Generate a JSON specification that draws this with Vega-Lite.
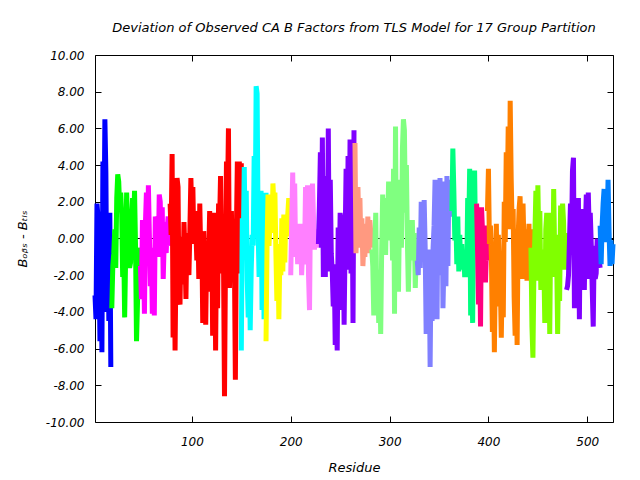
{
"$schema": "https://vega.github.io/schema/vega-lite/v6.json",
"width": 518, "height": 367,
"autosize": {"type": "none"},
"padding": {"left": 95, "top": 55, "right": 27, "bottom": 58},
"background": "white",
"title": {"text": "Deviation of Observed CA B Factors from TLS Model for 17 Group Partition", "font": "DejaVu Sans", "fontSize": 13, "fontStyle": "italic", "fontWeight": "normal", "color": "black", "anchor": "middle", "offset": 14},
"config": {
  "view": {"stroke": "black", "strokeWidth": 1},
  "axis": {"domain": false, "grid": false, "tickColor": "black", "labelColor": "black", "titleColor": "black", "labelFont": "DejaVu Sans", "titleFont": "DejaVu Sans", "labelFontSize": 12, "titleFontSize": 13, "labelFontStyle": "italic", "titleFontStyle": "italic", "titleFontWeight": "normal", "tickSize": -6, "tickWidth": 1}
},
"layer": [
  {"data": {"values": [{}]}, "mark": {"type": "rule", "color": "black", "strokeWidth": 1}, "encoding": {"y": {"datum": 0, "type": "quantitative", "scale": {"domain": [-10, 10], "nice": false}, "axis": null}}},
  {"data": {"values": [
{"g":1,"r":2,"v":-3.1},{"g":1,"r":3,"v":-4.4},{"g":1,"r":4,"v":1.9},{"g":1,"r":5,"v":1.2},{"g":1,"r":6,"v":-0.5},{"g":1,"r":7,"v":-5.6},{"g":1,"r":8,"v":0.2},{"g":1,"r":9,"v":-6.2},{"g":1,"r":10,"v":4.2},{"g":1,"r":11,"v":-0.3},{"g":1,"r":12,"v":6.5},{"g":1,"r":13,"v":3.6},{"g":1,"r":14,"v":-4.0},{"g":1,"r":15,"v":1.4},{"g":1,"r":16,"v":-4.5},{"g":1,"r":17,"v":1.4},{"g":1,"r":18,"v":-7.0},
{"g":2,"r":19,"v":-3.8},{"g":2,"r":20,"v":-1.5},{"g":2,"r":21,"v":-0.8},{"g":2,"r":22,"v":0.5},{"g":2,"r":23,"v":-1.6},{"g":2,"r":24,"v":2.2},{"g":2,"r":25,"v":3.5},{"g":2,"r":26,"v":3.1},{"g":2,"r":27,"v":1.6},{"g":2,"r":28,"v":2.5},{"g":2,"r":29,"v":1.3},{"g":2,"r":30,"v":-2.1},{"g":2,"r":31,"v":-0.3},{"g":2,"r":32,"v":-4.3},{"g":2,"r":33,"v":-1.0},{"g":2,"r":34,"v":2.5},{"g":2,"r":35,"v":0.5},{"g":2,"r":36,"v":1.6},{"g":2,"r":37,"v":-1.6},{"g":2,"r":38,"v":-1.3},{"g":2,"r":39,"v":0.9},{"g":2,"r":40,"v":2.2},{"g":2,"r":41,"v":0.5},{"g":2,"r":42,"v":2.6},{"g":2,"r":43,"v":-0.4},{"g":2,"r":44,"v":-5.6},{"g":2,"r":45,"v":-3.5},{"g":2,"r":46,"v":-0.5},{"g":2,"r":47,"v":-2.0},
{"g":3,"r":48,"v":-1.5},{"g":3,"r":49,"v":-3.3},{"g":3,"r":50,"v":1.0},{"g":3,"r":51,"v":-0.3},{"g":3,"r":52,"v":-4.1},{"g":3,"r":53,"v":0.8},{"g":3,"r":54,"v":2.5},{"g":3,"r":55,"v":-1.3},{"g":3,"r":56,"v":2.9},{"g":3,"r":57,"v":0.2},{"g":3,"r":58,"v":-2.6},{"g":3,"r":59,"v":-0.5},{"g":3,"r":60,"v":-4.1},{"g":3,"r":61,"v":-1.2},{"g":3,"r":62,"v":-4.2},{"g":3,"r":63,"v":1.2},{"g":3,"r":64,"v":0.3},{"g":3,"r":65,"v":1.2},{"g":3,"r":66,"v":-1.0},{"g":3,"r":67,"v":2.4},{"g":3,"r":68,"v":2.0},{"g":3,"r":69,"v":-0.9},{"g":3,"r":70,"v":1.7},{"g":3,"r":71,"v":-2.2},{"g":3,"r":72,"v":-0.2},{"g":3,"r":73,"v":0.9},{"g":3,"r":74,"v":-0.8},{"g":3,"r":75,"v":0.5},{"g":3,"r":76,"v":1.2},{"g":3,"r":77,"v":-0.4},
{"g":4,"r":78,"v":1.9},{"g":4,"r":79,"v":0.2},{"g":4,"r":80,"v":4.6},{"g":4,"r":81,"v":-5.4},{"g":4,"r":82,"v":0.5},{"g":4,"r":83,"v":-6.1},{"g":4,"r":84,"v":-1.0},{"g":4,"r":85,"v":3.3},{"g":4,"r":86,"v":2.8},{"g":4,"r":87,"v":-3.3},{"g":4,"r":88,"v":-3.6},{"g":4,"r":89,"v":0.1},{"g":4,"r":90,"v":-1.4},{"g":4,"r":91,"v":-2.5},{"g":4,"r":92,"v":0.9},{"g":4,"r":93,"v":-0.8},{"g":4,"r":94,"v":-3.3},{"g":4,"r":95,"v":0.3},{"g":4,"r":96,"v":-1.0},{"g":4,"r":97,"v":-2.0},{"g":4,"r":98,"v":0.5},{"g":4,"r":99,"v":3.3},{"g":4,"r":100,"v":1.1},{"g":4,"r":101,"v":2.8},{"g":4,"r":102,"v":-0.3},{"g":4,"r":103,"v":1.5},{"g":4,"r":104,"v":0.6},{"g":4,"r":105,"v":-1.2},{"g":4,"r":106,"v":1.2},{"g":4,"r":107,"v":-2.2},{"g":4,"r":108,"v":1.9},{"g":4,"r":109,"v":-1.0},{"g":4,"r":110,"v":0.2},{"g":4,"r":111,"v":-4.6},{"g":4,"r":112,"v":0.4},{"g":4,"r":113,"v":-1.8},{"g":4,"r":114,"v":-4.7},{"g":4,"r":115,"v":-0.6},{"g":4,"r":116,"v":-2.3},{"g":4,"r":117,"v":-1.0},{"g":4,"r":118,"v":1.5},{"g":4,"r":119,"v":-2.9},{"g":4,"r":120,"v":1.4},{"g":4,"r":121,"v":-5.3},{"g":4,"r":122,"v":-0.2},{"g":4,"r":123,"v":1.4},{"g":4,"r":124,"v":-6.1},{"g":4,"r":125,"v":0.1},{"g":4,"r":126,"v":-3.8},{"g":4,"r":127,"v":1.9},{"g":4,"r":128,"v":0.8},{"g":4,"r":129,"v":3.4},{"g":4,"r":130,"v":-1.9},{"g":4,"r":131,"v":0.3},{"g":4,"r":132,"v":-1.2},{"g":4,"r":133,"v":-8.6},{"g":4,"r":134,"v":-1.2},{"g":4,"r":135,"v":4.2},{"g":4,"r":136,"v":2.0},{"g":4,"r":137,"v":6.0},{"g":4,"r":138,"v":-2.7},{"g":4,"r":139,"v":-0.5},{"g":4,"r":140,"v":1.5},{"g":4,"r":141,"v":-2.0},{"g":4,"r":142,"v":0.8},{"g":4,"r":143,"v":-1.0},{"g":4,"r":144,"v":-7.7},{"g":4,"r":145,"v":0.2},{"g":4,"r":146,"v":4.2},{"g":4,"r":147,"v":-1.9},{"g":4,"r":148,"v":4.2},{"g":4,"r":149,"v":-1.9},{"g":4,"r":150,"v":4.1},
{"g":5,"r":150,"v":-6.1},{"g":5,"r":151,"v":1.1},{"g":5,"r":152,"v":-0.3},{"g":5,"r":153,"v":3.9},{"g":5,"r":154,"v":-0.6},{"g":5,"r":155,"v":2.6},{"g":5,"r":156,"v":-2.3},{"g":5,"r":157,"v":-4.3},{"g":5,"r":158,"v":-0.5},{"g":5,"r":159,"v":-5.0},{"g":5,"r":160,"v":-1.8},{"g":5,"r":161,"v":0.2},{"g":5,"r":162,"v":-0.4},{"g":5,"r":163,"v":4.5},{"g":5,"r":164,"v":0.6},{"g":5,"r":165,"v":8.3},{"g":5,"r":166,"v":7.9},{"g":5,"r":167,"v":0.4},{"g":5,"r":168,"v":-2.1},{"g":5,"r":169,"v":-0.5},{"g":5,"r":170,"v":2.6},{"g":5,"r":171,"v":-3.9},{"g":5,"r":172,"v":2.4},{"g":5,"r":173,"v":-4.4},{"g":5,"r":174,"v":-1.3},{"g":5,"r":175,"v":2.5},
{"g":6,"r":175,"v":-5.6},{"g":6,"r":176,"v":-0.5},{"g":6,"r":177,"v":2.4},{"g":6,"r":178,"v":-0.4},{"g":6,"r":179,"v":0.8},{"g":6,"r":180,"v":2.3},{"g":6,"r":181,"v":0.3},{"g":6,"r":182,"v":3.0},{"g":6,"r":183,"v":1.7},{"g":6,"r":184,"v":2.5},{"g":6,"r":185,"v":-0.8},{"g":6,"r":186,"v":-3.4},{"g":6,"r":187,"v":-0.3},{"g":6,"r":188,"v":-4.4},{"g":6,"r":189,"v":-1.0},{"g":6,"r":190,"v":-2.0},{"g":6,"r":191,"v":1.1},{"g":6,"r":192,"v":-1.8},{"g":6,"r":193,"v":1.3},{"g":6,"r":194,"v":-1.3},{"g":6,"r":195,"v":1.2},{"g":6,"r":196,"v":0.1},{"g":6,"r":197,"v":1.3},{"g":6,"r":198,"v":2.2},{"g":6,"r":199,"v":0.3},{"g":6,"r":200,"v":1.8},
{"g":7,"r":200,"v":-2.0},{"g":7,"r":201,"v":0.9},{"g":7,"r":202,"v":3.6},{"g":7,"r":203,"v":-0.5},{"g":7,"r":204,"v":3.0},{"g":7,"r":205,"v":-1.0},{"g":7,"r":206,"v":0.3},{"g":7,"r":207,"v":-1.4},{"g":7,"r":208,"v":0.8},{"g":7,"r":209,"v":-1.4},{"g":7,"r":210,"v":0.8},{"g":7,"r":211,"v":-2.0},{"g":7,"r":212,"v":-0.7},{"g":7,"r":213,"v":-1.4},{"g":7,"r":214,"v":-0.7},{"g":7,"r":215,"v":2.8},{"g":7,"r":216,"v":-0.3},{"g":7,"r":217,"v":2.9},{"g":7,"r":218,"v":-2.0},{"g":7,"r":219,"v":-3.9},{"g":7,"r":220,"v":1.8},{"g":7,"r":221,"v":0.5},{"g":7,"r":222,"v":3.0},{"g":7,"r":223,"v":1.2},{"g":7,"r":224,"v":-0.6},{"g":7,"r":225,"v":0.5},{"g":7,"r":226,"v":-0.5},{"g":7,"r":227,"v":0.4},{"g":7,"r":228,"v":-0.2},
{"g":8,"r":228,"v":-0.3},{"g":8,"r":229,"v":1.8},{"g":8,"r":230,"v":4.7},{"g":8,"r":231,"v":-0.5},{"g":8,"r":232,"v":5.5},{"g":8,"r":233,"v":-2.1},{"g":8,"r":234,"v":3.4},{"g":8,"r":235,"v":-2.1},{"g":8,"r":236,"v":3.2},{"g":8,"r":237,"v":-1.8},{"g":8,"r":238,"v":6.0},{"g":8,"r":239,"v":-1.7},{"g":8,"r":240,"v":3.2},{"g":8,"r":241,"v":-0.8},{"g":8,"r":242,"v":-1.8},{"g":8,"r":243,"v":-3.7},{"g":8,"r":244,"v":-1.4},{"g":8,"r":245,"v":-5.8},{"g":8,"r":246,"v":-3.5},{"g":8,"r":247,"v":-6.1},{"g":8,"r":248,"v":0.6},{"g":8,"r":249,"v":-2.0},{"g":8,"r":250,"v":1.4},{"g":8,"r":251,"v":-3.9},{"g":8,"r":252,"v":1.3},{"g":8,"r":253,"v":0.6},{"g":8,"r":254,"v":-4.7},{"g":8,"r":255,"v":-0.2},{"g":8,"r":256,"v":3.8},{"g":8,"r":257,"v":-1.7},{"g":8,"r":258,"v":4.5},{"g":8,"r":259,"v":-1.2},{"g":8,"r":260,"v":5.4},{"g":8,"r":261,"v":-1.9},{"g":8,"r":262,"v":3.2},{"g":8,"r":263,"v":-4.6},{"g":8,"r":264,"v":5.9},
{"g":9,"r":265,"v":5.2},{"g":9,"r":266,"v":-0.8},{"g":9,"r":267,"v":1.2},{"g":9,"r":268,"v":2.8},{"g":9,"r":269,"v":0.3},{"g":9,"r":270,"v":2.2},{"g":9,"r":271,"v":-0.5},{"g":9,"r":272,"v":1.1},{"g":9,"r":273,"v":-1.5},{"g":9,"r":274,"v":-0.3},{"g":9,"r":275,"v":-1.0},{"g":9,"r":276,"v":0.8},{"g":9,"r":277,"v":-0.5},{"g":9,"r":278,"v":1.2},{"g":9,"r":279,"v":-0.8},{"g":9,"r":280,"v":1.0},{"g":9,"r":281,"v":0.3},{"g":9,"r":282,"v":-0.5},
{"g":10,"r":282,"v":-0.6},{"g":10,"r":283,"v":-1.5},{"g":10,"r":284,"v":-4.2},{"g":10,"r":285,"v":-0.5},{"g":10,"r":286,"v":1.4},{"g":10,"r":287,"v":-3.6},{"g":10,"r":288,"v":-1.8},{"g":10,"r":289,"v":-4.6},{"g":10,"r":290,"v":-1.7},{"g":10,"r":291,"v":-5.2},{"g":10,"r":292,"v":-0.6},{"g":10,"r":293,"v":2.4},{"g":10,"r":294,"v":-0.3},{"g":10,"r":295,"v":1.6},{"g":10,"r":296,"v":-0.9},{"g":10,"r":297,"v":2.2},{"g":10,"r":298,"v":0.3},{"g":10,"r":299,"v":3.1},{"g":10,"r":300,"v":1.0},{"g":10,"r":301,"v":-0.1},{"g":10,"r":302,"v":1.3},{"g":10,"r":303,"v":-1.2},{"g":10,"r":304,"v":3.8},{"g":10,"r":305,"v":-4.1},{"g":10,"r":306,"v":6.1},{"g":10,"r":307,"v":-1.8},{"g":10,"r":308,"v":1.2},{"g":10,"r":309,"v":-2.9},{"g":10,"r":310,"v":1.3},{"g":10,"r":311,"v":3.2},{"g":10,"r":312,"v":-0.5},{"g":10,"r":313,"v":4.9},{"g":10,"r":314,"v":6.5},{"g":10,"r":315,"v":5.9},{"g":10,"r":316,"v":1.4},{"g":10,"r":317,"v":4.0},{"g":10,"r":318,"v":-0.1},{"g":10,"r":319,"v":-2.9},{"g":10,"r":320,"v":-0.6},{"g":10,"r":321,"v":1.0},{"g":10,"r":322,"v":-0.8},{"g":10,"r":323,"v":1.0},{"g":10,"r":324,"v":-1.2},{"g":10,"r":325,"v":0.3},{"g":10,"r":326,"v":-2.7},{"g":10,"r":327,"v":-0.8},{"g":10,"r":328,"v":-1.2},
{"g":11,"r":328,"v":-1.2},{"g":11,"r":329,"v":-2.0},{"g":11,"r":330,"v":0.6},{"g":11,"r":331,"v":-1.6},{"g":11,"r":332,"v":2.0},{"g":11,"r":333,"v":1.3},{"g":11,"r":334,"v":0.6},{"g":11,"r":335,"v":2.1},{"g":11,"r":336,"v":-0.5},{"g":11,"r":337,"v":-5.2},{"g":11,"r":338,"v":-1.6},{"g":11,"r":339,"v":-3.4},{"g":11,"r":340,"v":-0.6},{"g":11,"r":341,"v":-7.0},{"g":11,"r":342,"v":-1.2},{"g":11,"r":343,"v":-4.5},{"g":11,"r":344,"v":-0.5},{"g":11,"r":345,"v":0.7},{"g":11,"r":346,"v":3.2},{"g":11,"r":347,"v":-2.6},{"g":11,"r":348,"v":-4.4},{"g":11,"r":349,"v":2.4},{"g":11,"r":350,"v":-2.0},{"g":11,"r":351,"v":3.3},{"g":11,"r":352,"v":0.2},{"g":11,"r":353,"v":3.1},{"g":11,"r":354,"v":-3.8},{"g":11,"r":355,"v":-1.3},{"g":11,"r":356,"v":1.5},{"g":11,"r":357,"v":-2.6},{"g":11,"r":358,"v":3.4},{"g":11,"r":359,"v":-1.5},{"g":11,"r":360,"v":3.2},{"g":11,"r":361,"v":1.2},{"g":11,"r":362,"v":1.9},{"g":11,"r":363,"v":1.5},
{"g":12,"r":363,"v":1.5},{"g":12,"r":364,"v":4.9},{"g":12,"r":365,"v":2.6},{"g":12,"r":366,"v":-0.1},{"g":12,"r":367,"v":1.2},{"g":12,"r":368,"v":-1.4},{"g":12,"r":369,"v":1.2},{"g":12,"r":370,"v":-1.8},{"g":12,"r":371,"v":0.2},{"g":12,"r":372,"v":-1.7},{"g":12,"r":373,"v":-0.3},{"g":12,"r":374,"v":-1.5},{"g":12,"r":375,"v":-0.8},{"g":12,"r":376,"v":-2.1},{"g":12,"r":377,"v":-0.8},{"g":12,"r":378,"v":-2.1},{"g":12,"r":379,"v":2.2},{"g":12,"r":380,"v":0.3},{"g":12,"r":381,"v":3.8},{"g":12,"r":382,"v":-4.2},{"g":12,"r":383,"v":-1.0},{"g":12,"r":384,"v":-4.6},{"g":12,"r":385,"v":1.7},{"g":12,"r":386,"v":3.7},{"g":12,"r":387,"v":-0.3},{"g":12,"r":388,"v":1.8},
{"g":13,"r":388,"v":1.9},{"g":13,"r":389,"v":-0.7},{"g":13,"r":390,"v":-3.6},{"g":13,"r":391,"v":-0.3},{"g":13,"r":392,"v":-4.8},{"g":13,"r":393,"v":1.7},{"g":13,"r":394,"v":0.4},{"g":13,"r":395,"v":-1.7},{"g":13,"r":396,"v":0.7},{"g":13,"r":397,"v":-2.4},{"g":13,"r":398,"v":-0.5},{"g":13,"r":399,"v":-1.2},{"g":13,"r":400,"v":0.2},
{"g":14,"r":399,"v":1.5},{"g":14,"r":400,"v":3.8},{"g":14,"r":401,"v":-0.3},{"g":14,"r":402,"v":0.7},{"g":14,"r":403,"v":-1.0},{"g":14,"r":404,"v":-5.1},{"g":14,"r":405,"v":-1.5},{"g":14,"r":406,"v":-6.2},{"g":14,"r":407,"v":-1.6},{"g":14,"r":408,"v":0.8},{"g":14,"r":409,"v":-3.7},{"g":14,"r":410,"v":0.2},{"g":14,"r":411,"v":-1.6},{"g":14,"r":412,"v":-2.4},{"g":14,"r":413,"v":-5.4},{"g":14,"r":414,"v":-1.8},{"g":14,"r":415,"v":-4.3},{"g":14,"r":416,"v":2.0},{"g":14,"r":417,"v":-0.2},{"g":14,"r":418,"v":4.7},{"g":14,"r":419,"v":1.9},{"g":14,"r":420,"v":6.1},{"g":14,"r":421,"v":0.5},{"g":14,"r":422,"v":7.5},{"g":14,"r":423,"v":3.3},{"g":14,"r":424,"v":0.6},{"g":14,"r":425,"v":1.6},{"g":14,"r":426,"v":-3.2},{"g":14,"r":427,"v":-5.3},{"g":14,"r":428,"v":-0.8},{"g":14,"r":429,"v":-5.8},{"g":14,"r":430,"v":0.0},{"g":14,"r":431,"v":1.6},{"g":14,"r":432,"v":2.3},{"g":14,"r":433,"v":-0.2},{"g":14,"r":434,"v":-2.2},{"g":14,"r":435,"v":1.9},{"g":14,"r":436,"v":-0.5},{"g":14,"r":437,"v":-1.9},{"g":14,"r":438,"v":0.5},{"g":14,"r":439,"v":-2.3},{"g":14,"r":440,"v":-0.7},{"g":14,"r":441,"v":0.8},{"g":14,"r":442,"v":-2.3},{"g":14,"r":443,"v":0.5},
{"g":15,"r":443,"v":-0.5},{"g":15,"r":444,"v":-4.8},{"g":15,"r":445,"v":-6.5},{"g":15,"r":446,"v":-1.8},{"g":15,"r":447,"v":0.2},{"g":15,"r":448,"v":2.6},{"g":15,"r":449,"v":-2.3},{"g":15,"r":450,"v":2.9},{"g":15,"r":451,"v":-0.3},{"g":15,"r":452,"v":1.5},{"g":15,"r":453,"v":-2.8},{"g":15,"r":454,"v":-0.6},{"g":15,"r":455,"v":-2.2},{"g":15,"r":456,"v":-1.2},{"g":15,"r":457,"v":-4.6},{"g":15,"r":458,"v":0.5},{"g":15,"r":459,"v":1.4},{"g":15,"r":460,"v":-2.5},{"g":15,"r":461,"v":0.5},{"g":15,"r":462,"v":-5.2},{"g":15,"r":463,"v":0.6},{"g":15,"r":464,"v":1.4},{"g":15,"r":465,"v":-2.1},{"g":15,"r":466,"v":2.7},{"g":15,"r":467,"v":-0.8},{"g":15,"r":468,"v":0.2},{"g":15,"r":469,"v":-1.0},{"g":15,"r":470,"v":-5.2},{"g":15,"r":471,"v":-0.8},{"g":15,"r":472,"v":-3.4},{"g":15,"r":473,"v":1.8},{"g":15,"r":474,"v":-0.5},{"g":15,"r":475,"v":1.9},{"g":15,"r":476,"v":0.9},{"g":15,"r":477,"v":-1.7},{"g":15,"r":478,"v":0.3},{"g":15,"r":479,"v":-1.5},
{"g":16,"r":479,"v":-2.8},{"g":16,"r":480,"v":-2.6},{"g":16,"r":481,"v":-2.0},{"g":16,"r":482,"v":0.0},{"g":16,"r":483,"v":1.9},{"g":16,"r":484,"v":-0.3},{"g":16,"r":485,"v":3.7},{"g":16,"r":486,"v":4.4},{"g":16,"r":487,"v":-3.8},{"g":16,"r":488,"v":-0.5},{"g":16,"r":489,"v":2.0},{"g":16,"r":490,"v":-2.4},{"g":16,"r":491,"v":2.2},{"g":16,"r":492,"v":-4.4},{"g":16,"r":493,"v":1.5},{"g":16,"r":494,"v":-2.0},{"g":16,"r":495,"v":1.6},{"g":16,"r":496,"v":-0.6},{"g":16,"r":497,"v":-2.8},{"g":16,"r":498,"v":0.5},{"g":16,"r":499,"v":2.4},{"g":16,"r":500,"v":-2.2},{"g":16,"r":501,"v":2.5},{"g":16,"r":502,"v":0.3},{"g":16,"r":503,"v":1.4},{"g":16,"r":504,"v":-0.3},{"g":16,"r":505,"v":-2.8},{"g":16,"r":506,"v":-4.8},{"g":16,"r":507,"v":-0.4},{"g":16,"r":508,"v":-2.2},{"g":16,"r":509,"v":-1.9},{"g":16,"r":510,"v":0.0},{"g":16,"r":511,"v":-1.5},{"g":16,"r":512,"v":-1.2},{"g":16,"r":513,"v":-1.6},
{"g":17,"r":513,"v":0.7},{"g":17,"r":514,"v":-1.4},{"g":17,"r":515,"v":0.7},{"g":17,"r":516,"v":1.9},{"g":17,"r":517,"v":2.7},{"g":17,"r":518,"v":-0.2},{"g":17,"r":519,"v":1.6},{"g":17,"r":520,"v":0.5},{"g":17,"r":521,"v":3.2},{"g":17,"r":522,"v":0.4},{"g":17,"r":523,"v":-1.5},{"g":17,"r":524,"v":-0.1},{"g":17,"r":525,"v":-1.4},{"g":17,"r":526,"v":-0.3}
  ]},
  "mark": {"type": "line", "strokeWidth": 5, "strokeJoin": "bevel", "strokeCap": "butt"},
  "encoding": {
    "x": {"field": "r", "type": "quantitative", "scale": {"domain": [2, 526], "nice": false, "zero": false}, "axis": {"values": [100, 200, 300, 400, 500], "format": "d", "title": "Residue", "labelPadding": 20, "titlePadding": 14}},
    "y": {"field": "v", "type": "quantitative", "scale": {"domain": [-10, 10], "nice": false}, "axis": {"values": [-10, -8, -6, -4, -2, 0, 2, 4, 6, 8, 10], "format": ".2f", "labelExpr": "replace(datum.label, '\u2212', '-')", "title": "B\u2092\u1d66\u209b - B\u209c\u2097\u209b", "labelPadding": 17, "titlePadding": 16}},
    "color": {"field": "g", "type": "nominal", "scale": {"domain": [1,2,3,4,5,6,7,8,9,10,11,12,13,14,15,16,17], "range": ["#0000ff","#00ff00","#ff00ff","#ff0000","#00ffff","#ffff00","#ff80ff","#8000ff","#ff9980","#80ff80","#8080ff","#00ff80","#ff0080","#ff8000","#80ff00","#8000ff","#0080ff"]}, "legend": null}
  }},
  {"data": {"values": [{"r": 2, "v": 0}]}, "mark": {"type": "point", "opacity": 0},
   "encoding": {
    "x": {"field": "r", "type": "quantitative", "scale": {"domain": [2, 526], "nice": false, "zero": false}, "axis": {"orient": "top", "values": [100, 200, 300, 400, 500], "labels": false, "title": null}},
    "y": {"field": "v", "type": "quantitative", "scale": {"domain": [-10, 10], "nice": false}, "axis": {"orient": "right", "values": [-10, -8, -6, -4, -2, 0, 2, 4, 6, 8, 10], "labels": false, "title": null}}
   }}
],
"resolve": {"axis": {"x": "independent", "y": "independent"}}
}
